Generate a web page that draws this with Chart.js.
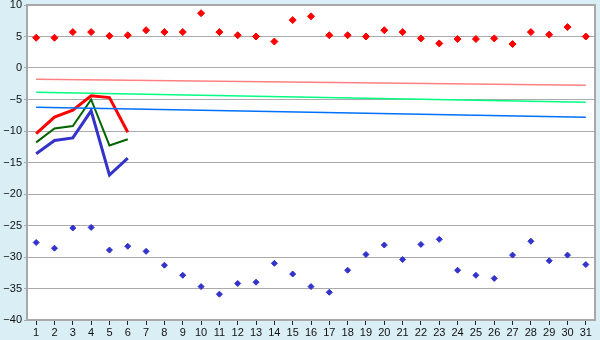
<!DOCTYPE html>
<html>
<head>
<meta charset="utf-8">
<script src="https://cdn.jsdelivr.net/npm/chart.js@4"></script>
<style>
  html, body { margin: 0; padding: 0; background: #daeef5; }
  #wrap { width: 600px; height: 340px; }
</style>
</head>
<body>
<div id="wrap"><canvas id="chart" width="600" height="340"></canvas></div>
<script>
// days of the month
const days = ['1','2','3','4','5','6','7','8','9','10','11','12','13','14','15','16','17','18','19','20','21','22','23','24','25','26','27','28','29','30','31'];

// daily max / min points
const highs = [4.8, 4.8, 5.7, 5.7, 5.1, 5.2, 6.0, 5.7, 5.7, 8.7, 5.7, 5.2, 5.0, 4.2, 7.6, 8.2, 5.2, 5.2, 5.0, 6.0, 5.7, 4.7, 3.9, 4.6, 4.6, 4.7, 3.8, 5.7, 5.3, 6.5, 5.0];
const lows = [-27.7, -28.6, -25.4, -25.3, -28.9, -28.3, -29.1, -31.3, -32.9, -34.7, -35.9, -34.2, -34.0, -31.0, -32.7, -34.7, -35.6, -32.1, -29.6, -28.1, -30.4, -28.0, -27.2, -32.1, -32.9, -33.4, -29.7, -27.5, -30.6, -29.7, -31.2];

// current month lines (first days only)
const redLine = [-10.4, -7.8, -6.7, -4.4, -4.7, -10.2];
const greenLine = [-11.8, -9.6, -9.2, -5.0, -12.3, -11.3];
const blueLine = [-13.6, -11.5, -11.1, -6.8, -17.0, -14.3];

// normals: value on day 1 and day 31
const normalHigh = [-1.8, -2.75];
const normalMean = [-3.86, -5.45];
const normalLow = [-6.24, -7.83];

const yTicks = [-40, -35, -30, -25, -20, -15, -10, -5, 0, 5, 10];

function endsOnly(pair) {
  const arr = days.map(() => null);
  arr[0] = pair[0];
  arr[days.length - 1] = pair[1];
  return arr;
}

const plotFrame = {
  id: 'plotFrame',
  beforeDraw(chart) {
    const a = chart.chartArea, ctx = chart.ctx;
    ctx.save();
    ctx.fillStyle = '#daeef5';
    ctx.fillRect(0, 0, chart.width, chart.height);
    ctx.fillStyle = '#ffffff';
    ctx.fillRect(a.left, a.top, a.right - a.left, a.bottom - a.top);
    ctx.restore();
  },
  afterDatasetsDraw(chart) {
    const a = chart.chartArea, ctx = chart.ctx;
    ctx.save();
    ctx.strokeStyle = '#a8a8a8';
    ctx.lineWidth = 2;
    ctx.strokeRect(a.left, a.top, a.right - a.left, a.bottom - a.top);
    ctx.restore();
  }
};

const font = { family: 'Liberation Sans', size: 11 };

new Chart(document.getElementById('chart'), {
  type: 'line',
  data: {
    labels: days,
    datasets: [
      { data: endsOnly(normalHigh), borderColor: '#ff8080', borderWidth: 1.5, pointRadius: 0, spanGaps: true },
      { data: endsOnly(normalMean), borderColor: '#00ff80', borderWidth: 1.5, pointRadius: 0, spanGaps: true },
      { data: endsOnly(normalLow), borderColor: '#0070ff', borderWidth: 1.5, pointRadius: 0, spanGaps: true },
      { data: redLine, borderColor: '#ff0000', borderWidth: 3, pointRadius: 0 },
      { data: greenLine, borderColor: '#006400', borderWidth: 2, pointRadius: 0 },
      { data: blueLine, borderColor: '#3333cc', borderWidth: 3, pointRadius: 0 },
      { data: highs, showLine: false, pointStyle: 'rectRot', pointRadius: 3.5,
        pointBackgroundColor: '#ff0000', pointBorderColor: '#ff0000', pointBorderWidth: 1 },
      { data: lows, showLine: false, pointStyle: 'rectRot', pointRadius: 3,
        pointBackgroundColor: '#3333cc', pointBorderColor: '#3333cc', pointBorderWidth: 1 }
    ]
  },
  options: {
    responsive: false,
    animation: false,
    layout: { padding: { top: 5, right: 5, left: 0, bottom: 0 } },
    plugins: { legend: { display: false }, tooltip: { enabled: false } },
    scales: {
      x: {
        offset: true,
        grid: { display: true, drawOnChartArea: false, offset: false, tickLength: 5, color: '#222222' },
        border: { display: false },
        ticks: { color: '#111111', font: font, padding: 1, maxRotation: 0, autoSkip: false },
        afterFit(scale) { scale.height = 20; }
      },
      y: {
        min: -40, max: 10,
        afterBuildTicks(scale) { scale.ticks = yTicks.map(v => ({ value: v })); },
        grid: { color: '#aaaaaa', tickLength: 3, lineWidth: 1 },
        border: { display: false },
        ticks: {
          color: '#111111', font: font, padding: 2,
          callback: v => String(v).replace('-', '\u2212')
        },
        afterFit(scale) {
          scale.width = 27;
          scale.paddingTop = 0;
          scale.paddingBottom = 0;
        }
      }
    }
  },
  plugins: [plotFrame]
});
</script>
</body>
</html>
